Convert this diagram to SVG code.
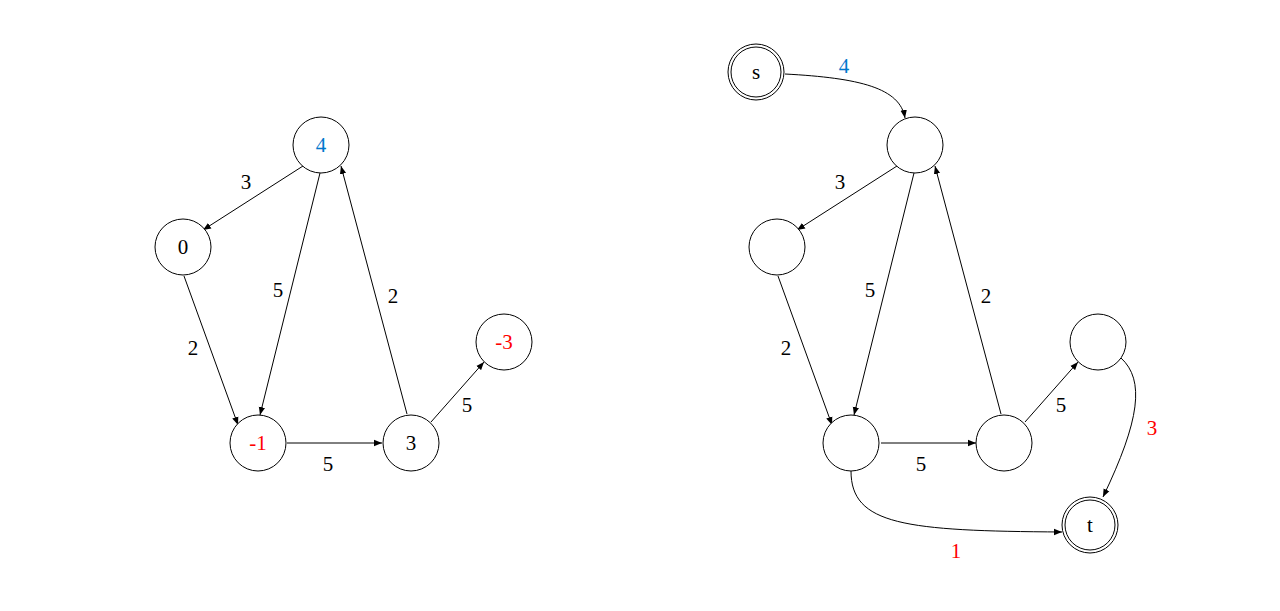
<svg xmlns="http://www.w3.org/2000/svg" width="1280" height="611" viewBox="0 0 1280 611">
<defs>
<marker id="arr" viewBox="0 0 10 10" refX="10" refY="5" markerWidth="8" markerHeight="8" markerUnits="userSpaceOnUse" orient="auto">
<path d="M0,1 L10,5 L0,9 z" fill="#000"/>
</marker>
<style>
.n{fill:#fff;stroke:#000;stroke-width:1}
.e{fill:none;stroke:#000;stroke-width:1;marker-end:url(#arr)}
text{font-family:"Liberation Serif","Times New Roman",serif;font-size:21px;text-anchor:middle;dominant-baseline:central;fill:#000}
.b{fill:#0077CC}
.r{fill:#FF0000}
</style>
</defs>
<rect width="1280" height="611" fill="#fff"/>
<g id="edges">
<path class="e" d="M303,166 L203,230"/>
<path class="e" d="M320,173 L260,415"/>
<path class="e" d="M184,276 L238,425"/>
<path class="e" d="M407,414 L341,166"/>
<path class="e" d="M287,443 L382,443"/>
<path class="e" d="M431,422 L484,362"/>
<path class="e" d="M897,166 L797,230"/>
<path class="e" d="M914,173 L854,415"/>
<path class="e" d="M778,276 L832,425"/>
<path class="e" d="M1001,414 L935,166"/>
<path class="e" d="M881,443 L976,443"/>
<path class="e" d="M1025,422 L1078,362"/>
<path class="e" d="M785,74 C860,78 900,88 905,118"/>
<path class="e" d="M1121,358 C1145,380 1140,420 1103,497"/>
<path class="e" d="M851,471 C851,525 905,531 1062,532"/>
</g>
<g id="labels">
<text x="246" y="182">3</text>
<text x="278" y="290">5</text>
<text x="193" y="348">2</text>
<text x="393" y="296">2</text>
<text x="328" y="464">5</text>
<text x="467" y="405">5</text>
<text x="840" y="182">3</text>
<text x="870" y="290">5</text>
<text x="786" y="348">2</text>
<text x="986" y="296">2</text>
<text x="921" y="464">5</text>
<text x="1061" y="405">5</text>
<text class="b" x="844" y="66">4</text>
<text class="r" x="1152" y="428">3</text>
<text class="r" x="956" y="551">1</text>
</g>
<g id="n4"><circle class="n" cx="321" cy="145" r="28"/><text class="b" x="321" y="145">4</text></g>
<g id="n0"><circle class="n" cx="183" cy="247" r="28"/><text x="183" y="247">0</text></g>
<g id="nm1"><circle class="n" cx="258" cy="443" r="28"/><text class="r" x="258" y="443">-1</text></g>
<g id="n3"><circle class="n" cx="411" cy="443" r="28"/><text x="411" y="443">3</text></g>
<g id="nm3"><circle class="n" cx="504" cy="342" r="28"/><text class="r" x="504" y="342">-3</text></g>
<g id="r4"><circle class="n" cx="915" cy="145" r="28"/></g>
<g id="r0"><circle class="n" cx="777" cy="247" r="28"/></g>
<g id="rm1"><circle class="n" cx="851" cy="443" r="28"/></g>
<g id="r3"><circle class="n" cx="1004" cy="443" r="28"/></g>
<g id="rm3"><circle class="n" cx="1098" cy="342" r="28"/></g>
<g id="s"><circle class="n" cx="756" cy="72" r="28"/><circle class="n" cx="756" cy="72" r="25"/><text x="756" y="72">s</text></g>
<g id="t"><circle class="n" cx="1090" cy="525" r="28"/><circle class="n" cx="1090" cy="525" r="25"/><text x="1090" y="525">t</text></g>
</svg>
